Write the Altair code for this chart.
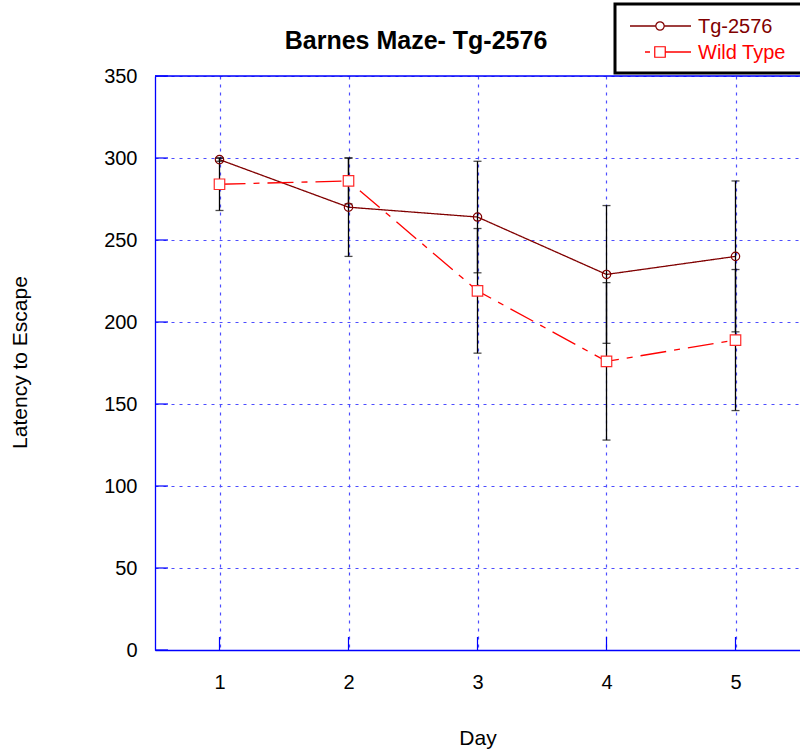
import altair as alt
import pandas as pd

# Mean escape latency per day with standard errors
days = [1, 2, 3, 4, 5]
series_names = ["Tg-2576", "Wild Type"]
series_colors = ["#800000", "#ff0000"]
tg_mean = [299, 270, 264, 229, 240]
tg_err = [1, 30, 34, 42, 46]
wt_mean = [284, 286, 219, 176, 189]
wt_err = [16, 14, 38, 48, 43]

x_ticks = [1, 2, 3, 4, 5]
y_ticks = [0, 50, 100, 150, 200, 250, 300, 350]
chart_title = "Barnes Maze- Tg-2576"

rows = []
for name, means, errs in zip(series_names, [tg_mean, wt_mean], [tg_err, wt_err]):
    for d, m, e in zip(days, means, errs):
        rows.append({"day": d, "latency": m, "err": e, "series": name})
df = pd.DataFrame(rows)

W, H = 645, 574
FONT = "Liberation Sans"
BLUE = "#0000ff"
GRID = "#4d4dff"

x_scale = alt.Scale(domain=[0.5, 5.5], nice=False, zero=False)
y_scale = alt.Scale(domain=[0, 350], nice=False)

x_axis = alt.Axis(
    values=x_ticks, title="Day", grid=True, gridColor=GRID, gridDash=[3, 5],
    gridWidth=1.2, ticks=False, domainColor=BLUE, domainWidth=1.3,
    labelFont=FONT, labelFontSize=20, labelColor="black", labelPadding=22,
    labelBaseline="top", format="d",
    titleFont=FONT, titleFontSize=21, titleFontWeight="normal", titleColor="black",
    titleX=W / 2, titleY=94, titleBaseline="alphabetic", titleAlign="center",
)
y_axis = alt.Axis(
    values=y_ticks, title="Latency to Escape", grid=True, gridColor=GRID,
    gridDash=[3, 5], gridWidth=1.2, ticks=False, domainColor=BLUE,
    domainWidth=1.3, labelFont=FONT, labelFontSize=20, labelColor="black",
    labelPadding=18, format="d",
    titleFont=FONT, titleFontSize=21, titleFontWeight="normal", titleColor="black",
    titleAngle=-90, titleX=-129, titleY=286, titleBaseline="alphabetic",
    titleAlign="center",
)


def X(field):
    return alt.X(field, type="quantitative", scale=x_scale, axis=x_axis)


def Y(field):
    return alt.Y(field, type="quantitative", scale=y_scale, axis=y_axis)


color_scale = alt.Scale(domain=series_names, range=series_colors)
dash_scale = alt.Scale(domain=series_names, range=[[1, 0], [26, 8, 6, 8]])

lines = alt.Chart(df).mark_line(strokeWidth=1.3).encode(
    x=X("day"),
    y=Y("latency"),
    color=alt.Color("series:N", scale=color_scale, legend=None),
    strokeDash=alt.StrokeDash("series:N", scale=dash_scale, legend=None),
)

err_base = alt.Chart(df).transform_calculate(
    lo="datum.latency - datum.err", hi="datum.latency + datum.err"
)
err_bars = err_base.mark_rule(color="black", strokeWidth=1.3).encode(
    x=X("day"), y=Y("lo"), y2="hi:Q"
)
cap_lo = err_base.mark_tick(color="black", orient="horizontal", size=8, thickness=1.3).encode(
    x=X("day"), y=Y("lo")
)
cap_hi = err_base.mark_tick(color="black", orient="horizontal", size=8, thickness=1.3).encode(
    x=X("day"), y=Y("hi")
)

tg_pts = alt.Chart(df).transform_filter(alt.datum.series == series_names[0]).mark_point(
    shape="circle", size=70, filled=False, stroke=series_colors[0], strokeWidth=1.2, opacity=1
).encode(x=X("day"), y=Y("latency"))

wt_pts = alt.Chart(df).transform_filter(alt.datum.series == series_names[1]).mark_point(
    shape="square", size=110, filled=True, fill="white", stroke="#ff2a2a",
    strokeWidth=1.2, opacity=1
).encode(x=X("day"), y=Y("latency"))

one = alt.Data(values=[{"k": 0}])

# frame: solid top border and inward ticks on the left and bottom axes
top_border = alt.Chart(one).mark_rule(color=BLUE, strokeWidth=1.3).encode(
    y=alt.value(0), x=alt.value(0), x2=alt.value(W)
)
ytick_df = pd.DataFrame({"v": y_ticks})
xtick_df = pd.DataFrame({"v": x_ticks})
y_inticks = alt.Chart(ytick_df).mark_rule(color=BLUE, strokeWidth=1.2).encode(
    y=Y("v"), x=alt.value(0), x2=alt.value(13)
)
x_inticks = alt.Chart(xtick_df).mark_rule(color=BLUE, strokeWidth=1.2).encode(
    x=X("v"), y=alt.value(H), y2=alt.value(H - 13)
)

# chart heading, centred over the figure
heading = alt.Chart(one).mark_text(
    align="center", baseline="alphabetic", font=FONT, fontSize=25,
    fontWeight="bold", color="black"
).encode(x=alt.value(261), y=alt.value(-27), text=alt.value(chart_title))

# key box in the upper right corner
legend_layers = [
    alt.Chart(one).mark_rect(fill="white", stroke="black", strokeWidth=3).encode(
        x=alt.value(460), x2=alt.value(700), y=alt.value(-72), y2=alt.value(-3)
    )
]
key_start = [475, 490]
key_shape = ["circle", "square"]
key_size = [70, 110]
for i, name in enumerate(series_names):
    ry = -50 + 26 * i
    legend_layers.append(
        alt.Chart(one).mark_rule(
            color=series_colors[i], strokeWidth=1.3,
            strokeDash=[5, 5, 60, 0] if i == 1 else [1, 0]
        ).encode(x=alt.value(key_start[i]), x2=alt.value(536), y=alt.value(ry))
    )
    legend_layers.append(
        alt.Chart(one).mark_point(
            shape=key_shape[i], size=key_size[i], filled=True,
            fill="white", stroke=series_colors[i], strokeWidth=1.2, opacity=1
        ).encode(x=alt.value(505), y=alt.value(ry))
    )
    legend_layers.append(
        alt.Chart(one).mark_text(
            align="left", baseline="middle", font=FONT, fontSize=20,
            color=series_colors[i]
        ).encode(x=alt.value(543), y=alt.value(ry + 1), text=alt.value(name))
    )

chart = alt.layer(
    lines, top_border, y_inticks, x_inticks, err_bars, cap_lo, cap_hi,
    tg_pts, wt_pts, heading, *legend_layers
).properties(
    width=W,
    height=H,
    autosize=alt.AutoSizeParams(type="none"),
    padding={"left": 155, "top": 76, "right": 0, "bottom": 102},
).configure_view(stroke=None).configure(background="white")

chart.save("out.html", embed_options={"renderer": "svg", "actions": False})
